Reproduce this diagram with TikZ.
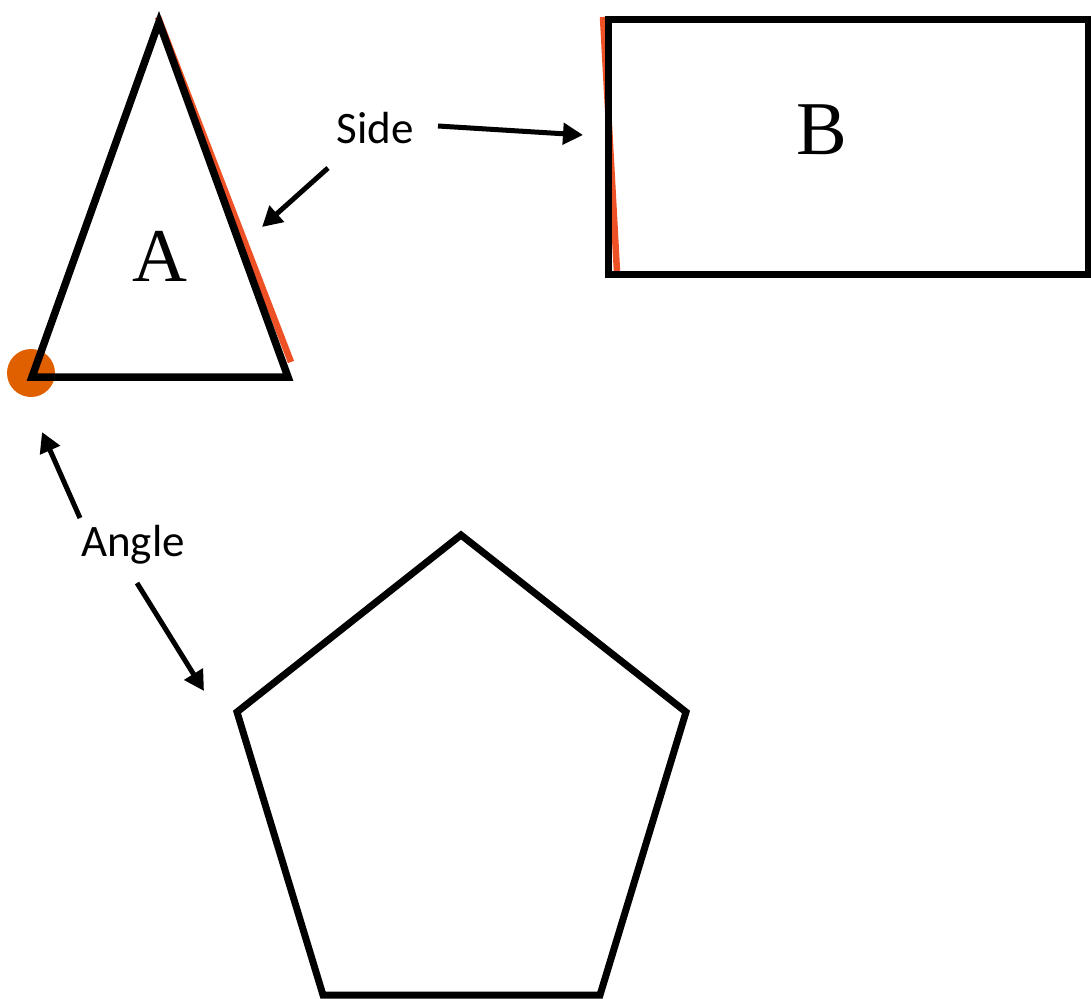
\documentclass[tikz,border=0pt]{standalone}
\usepackage{fontspec}
\setmainfont{Liberation Serif}
\newfontfamily\labelfont{Carlito}
\usetikzlibrary{arrows.meta}
\definecolor{edgeorange}{HTML}{EE5125}
\definecolor{dotorange}{HTML}{E06000}
\tikzset{
  shapeline/.style={draw=black, line width=7.5pt, line join=miter},
  hilite/.style={draw=edgeorange, line width=6.5pt},
  pointer/.style={draw=black, line width=5pt, -{Triangle[length=20pt,width=21pt]}},
  callout/.style={font=\labelfont\fontsize{45}{45}\selectfont, inner sep=2pt},
  bigletter/.style={font=\fontsize{76}{76}\selectfont, inner sep=0pt}
}
\begin{document}
\begin{tikzpicture}[x=1pt,y=-1pt]
\useasboundingbox (0,0) rectangle (1091,998);
% highlights
\draw[hilite] (158,17) -- (291,362);
\draw[hilite] (603,17) -- (617,272);
\fill[dotorange] (31,373) circle (24);
% triangle
\coordinate (t1) at (159,22);
\coordinate (t2) at (32,377);
\coordinate (t3) at (288,377);
\draw[shapeline] (t1) -- (t2) -- (t3) -- cycle;
\node[bigletter] (A) at (160,256) {A};
% rectangle
\draw[shapeline, line width=7pt] (608,20) rectangle (1088,274);
\node[bigletter] (B) at (822,130) {B};
% pentagon
\draw[shapeline, line width=7pt] (461,535) -- (686,712) -- (600,995) -- (323,995) -- (237,712) -- cycle;
% labels
\node[callout] (side) at (375,128) {Side};
\node[callout] (angle) at (133,545) {Angle};
% connector ends
\coordinate (s1) at (328,168);
\coordinate (s1e) at (262,227);
\coordinate (s2) at (438,126);
\coordinate (s2e) at (583,135);
\coordinate (a1) at (80,518);
\coordinate (a1e) at (42,432);
\coordinate (a2) at (137,583);
\coordinate (a2e) at (204,691);
\draw[pointer] (s1) -- (s1e);
\draw[pointer] (s2) -- (s2e);
\draw[pointer] (a1) -- (a1e);
\draw[pointer] (a2) -- (a2e);
\end{tikzpicture}
\end{document}
